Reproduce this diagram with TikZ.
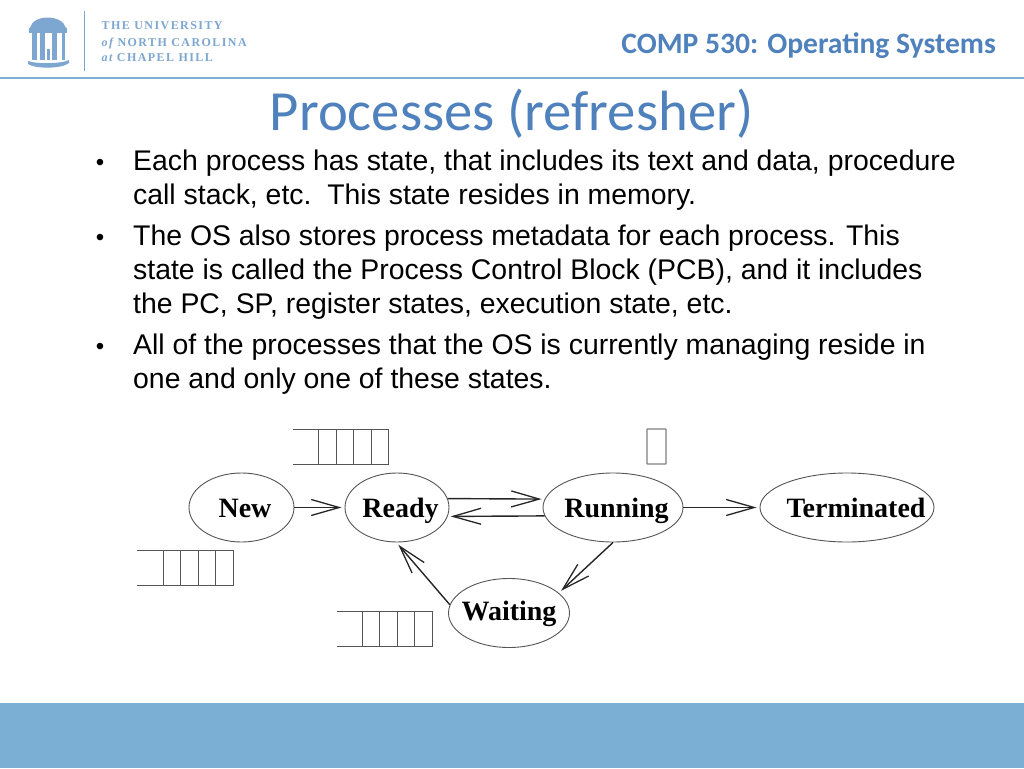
\documentclass[tikz,border=0pt]{standalone}
\usepackage{fontspec}
\setmainfont{Liberation Sans}
\newfontfamily\calibrifont{Carlito}
\newfontfamily\statefont{Liberation Serif}
\newfontfamily\logofont[LetterSpace=12]{Liberation Serif}
\usepackage{tikz}
\usetikzlibrary{arrows.meta}
\usetikzlibrary{shapes.geometric}
\definecolor{mybandblue}{RGB}{123,175,212}
\definecolor{mytitleblue}{RGB}{79,129,189}
\definecolor{mylogoblue}{RGB}{125,166,208}
\definecolor{myshapegray}{RGB}{85,85,85}
\tikzset{
  statenode/.style args={#1,#2}{shape=ellipse,draw=myshapegray,line width=0.9pt,minimum width=#1,minimum height=#2,inner sep=-30pt,text height=19pt,text depth=0pt,font=\statefont\fontsize{28}{28}\bfseries\selectfont},
  bodyline/.style={anchor=base west,inner sep=0pt,font=\fontsize{28.4}{32}\selectfont},
  bulletmark/.style={anchor=base,inner sep=0pt,font=\fontsize{24}{28}\selectfont},
  logoline/.style={anchor=base west,inner sep=0pt,text=mylogoblue,font=\logofont\fontsize{12}{13}\bfseries\selectfont},
  queueline/.style={draw=myshapegray,line width=1pt},
  statearrow/.style={draw=black!85,line width=1.4pt,-{Straight Barb[length=28pt,width=16pt,line width=1.3pt]},shorten >=3pt}
}
% left end, first cell, top of a queue with four cells
\newcommand\queuecells[3]{
  \draw[queueline] (#1,#3) -- (#2+70,#3) -- (#2+70,#3+35) -- (#1,#3+35);
  \foreach \cellx in {0,17.5,35,52.5} {
    \draw[queueline] (#2+\cellx,#3) -- (#2+\cellx,#3+35);
  }
}
\begin{document}
\begin{tikzpicture}[x=1pt,y=-1pt]
\useasboundingbox (0,0) rectangle (1024,768);
\fill[white] (0,0) rectangle (1024,768);
\fill[mybandblue] (0,703) rectangle (1024,768);
\fill[mybandblue] (0,77) rectangle (1024,78.5);
% logo
\fill[mylogoblue] (30,28) .. controls (33,14) and (62,14) .. (66,28) -- cycle;
\fill[mylogoblue] (29,28.5) rectangle (67,33);
\foreach \colx in {32,40,52} {
  \fill[mylogoblue] (\colx,33) rectangle (\colx+4.5,60);
}
\fill[mylogoblue] (61.5,33) rectangle (65,60);
\fill[mylogoblue] (47,49) rectangle (50,60);
\fill[mylogoblue] (28,61) .. controls (35,64) and (62,64) .. (69,60) -- (69,63) .. controls (62,69) and (35,69) .. (28,64) -- cycle;
\draw[mylogoblue,line width=0.7pt] (84,11) -- (84,71);
\node[logoline] (logoa) at (101.5,30) {THE UNIVERSITY};
\node[logoline] (logob) at (101.5,46) {{\itshape of} NORTH CAROLINA};
\node[logoline] (logoc) at (101.5,62) {{\itshape at} CHAPEL HILL};
% headings
\node[anchor=base east,inner sep=0pt,text=mytitleblue,font=\calibrifont\fontsize{29.6}{30}\bfseries\selectfont] (course) at (996,53) {COMP 530: Operating Systems};
\node[anchor=base,inner sep=0pt,text=mytitleblue,font=\calibrifont\fontsize{56.7}{57}\selectfont] (title) at (511.5,130) {Processes (refresher)};
% text
\node[bulletmark] (bulleta) at (100,170) {•};
\node[bodyline] (linea) at (133,170) {Each process has state, that includes its text and data, procedure};
\node[bodyline] (lineb) at (133,204) {call stack, etc.\ \ This state resides in memory.};
\node[bulletmark] (bulletb) at (100,245) {•};
\node[bodyline] (linec) at (133,245) {The OS also stores process metadata for each process. This};
\node[bodyline] (lined) at (133,279) {state is called the Process Control Block (PCB), and it includes};
\node[bodyline] (linee) at (133,313) {the PC, SP, register states, execution state, etc.};
\node[bulletmark] (bulletc) at (100,354) {•};
\node[bodyline] (linef) at (133,354) {All of the processes that the OS is currently managing reside in};
\node[bodyline] (lineg) at (133,388) {one and only one of these states.};
% states
\node[statenode={105pt,69pt}] (new) at (241.5,507.5) {\hspace*{7pt}New};
\node[statenode={104pt,69pt}] (ready) at (397,507.5) {\hspace*{7pt}Ready};
\node[statenode={140pt,69pt}] (running) at (613,507.5) {\hspace*{7pt}Running};
\node[statenode={174pt,69pt}] (terminated) at (847,507.5) {\hspace*{18pt}Terminated};
\node[statenode={121pt,69pt},text height=14pt] (waiting) at (509,613) {Waiting};
% queues
\queuecells{293}{318.5}{429}
\queuecells{137}{163}{550}
\queuecells{337}{362}{611}
\draw[draw=gray,line width=1.2pt,rounded corners=0.5pt] (647,429) rectangle (666,464);
% transitions
\draw[statearrow] (new.east) -- (ready.west);
\draw[statearrow] (ready.10) -- (running.173);
\draw[statearrow] (running.187) -- (ready.-10);
\draw[statearrow] (running.east) -- (terminated.west);
\draw[statearrow] (running.south) -- (waiting.22);
\draw[statearrow] (waiting.172) -- (ready.-91);
\end{tikzpicture}
\end{document}
